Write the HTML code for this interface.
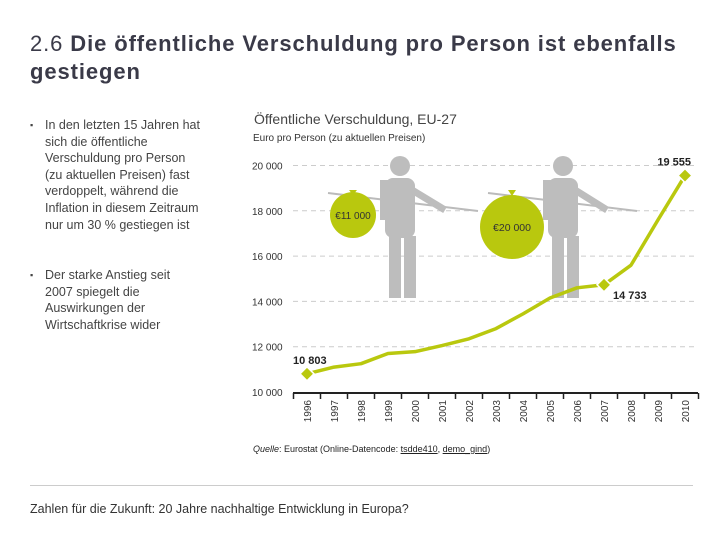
<!DOCTYPE html>
<html><head><meta charset="utf-8">
<style>
body{margin:0;width:720px;height:540px;background:#fff;font-family:"Liberation Sans",sans-serif;position:relative;overflow:hidden}
.t{position:absolute}
</style></head><body>
<div class="t" style="left:30px;top:30px;font-size:22px;letter-spacing:0.9px;color:#3a3a48;line-height:28px;width:690px">2.6 <b>Die öffentliche Verschuldung pro Person ist ebenfalls<br>gestiegen</b></div>
<div class="t" style="left:30px;top:117px;font-size:12.5px;color:#444;line-height:16.6px;width:170px"><span style="position:absolute;left:0;font-size:9px">▪</span><div style="margin-left:15px">In den letzten 15 Jahren hat sich die öffentliche Verschuldung pro Person (zu aktuellen Preisen) fast verdoppelt, während die Inflation in diesem Zeitraum nur um 30 % gestiegen ist</div></div>
<div class="t" style="left:30px;top:267px;font-size:12.5px;color:#444;line-height:16.6px;width:170px"><span style="position:absolute;left:0;font-size:9px">▪</span><div style="margin-left:15px">Der starke Anstieg seit 2007 spiegelt die Auswirkungen der Wirtschaftkrise wider</div></div>
<div class="t" style="left:254px;top:111px;font-size:14px;color:#444">Öffentliche Verschuldung, EU-27</div>
<div class="t" style="left:253px;top:133px;font-size:10px;color:#333">Euro pro Person (zu aktuellen Preisen)</div>
<svg class="t" style="left:0;top:0" width="720" height="540" id="chart">
<g id="grid"></g>
<g fill="#bdbdbd">
<line x1="328" y1="193" x2="478" y2="211" stroke="#bbb" stroke-width="2"/>
<circle cx="400" cy="166" r="10"/><rect x="385" y="178" width="30" height="60" rx="8"/><rect x="389" y="236" width="12" height="62"/><rect x="404" y="236" width="12" height="62"/>
<rect x="380" y="180" width="8" height="40"/><line x1="412" y1="190" x2="445" y2="210" stroke="#bdbdbd" stroke-width="7"/>
</g>
<g fill="#bdbdbd">
<line x1="488" y1="193" x2="637" y2="211" stroke="#bbb" stroke-width="2"/>
<circle cx="563" cy="166" r="10"/><rect x="548" y="178" width="30" height="60" rx="8"/><rect x="552" y="236" width="12" height="62"/><rect x="567" y="236" width="12" height="62"/>
<rect x="543" y="180" width="8" height="40"/><line x1="575" y1="190" x2="607" y2="210" stroke="#bdbdbd" stroke-width="7"/>
</g>
<circle cx="353" cy="215" r="23" fill="#b9c80e"/>
<path d="M349 190 L357 190 L353 195Z" fill="#b9c80e"/>
<text x="353" y="219" font-size="10" text-anchor="middle" fill="#333">€11 000</text>
<circle cx="512" cy="227" r="32" fill="#b9c80e"/>
<path d="M508 190 L516 190 L512 196Z" fill="#b9c80e"/>
<text x="512" y="231" font-size="10.5" text-anchor="middle" fill="#333">€20 000</text>
<g id="plot"></g>
</svg>
<div class="t" style="left:253px;top:444px;font-size:9px;color:#222"><i>Quelle</i>: Eurostat (Online-Datencode: <u>tsdde410</u>, <u>demo_gind</u>)</div>
<div class="t" style="left:30px;top:485px;width:663px;height:1px;background:#ccc"></div>
<div class="t" style="left:30px;top:502px;font-size:12.5px;color:#333">Zahlen für die Zukunft: 20 Jahre nachhaltige Entwicklung in Europa?</div>
<script>
const years=["1996","1997","1998","1999","2000","2001","2002","2003","2004","2005","2006","2007","2008","2009","2010"];
const values=[10803,11100,11250,11700,11780,12050,12350,12800,13450,14150,14600,14733,15600,17600,19555];
const yTicks=[10000,12000,14000,16000,18000,20000];
const yTickLabels=["10 000","12 000","14 000","16 000","18 000","20 000"];
const labelled=[0,11,14];
const labelText=["10 803","14 733","19 555"];
const NS="http://www.w3.org/2000/svg";
const x=i=>307+i*27;
const y=v=>392-(v-10000)*0.02265;
const grid=document.getElementById('grid'),plot=document.getElementById('plot');
function mk(tag,attrs,parent){const e=document.createElementNS(NS,tag);for(const k in attrs)e.setAttribute(k,attrs[k]);parent.appendChild(e);return e;}
yTicks.forEach((t,i)=>{
  if(i>0){const l=mk('line',{x1:293,x2:698,y1:y(t),y2:y(t),stroke:'#ccc','stroke-dasharray':'5,4'},grid);
  
  }
  const tx=mk('text',{x:252,y:y(t)+4,'font-size':10,fill:'#333'},grid);tx.textContent=yTickLabels[i];
  
  
});
const ax=mk('line',{x1:293,x2:698,y1:393,y2:393,stroke:'#222','stroke-width':2},grid);


for(let i=0;i<=years.length;i++){mk('line',{x1:293.5+i*27,x2:293.5+i*27,y1:393,y2:399,stroke:'#222','stroke-width':1.5},grid);}
years.forEach((yr,i)=>{const t=mk('text',{x:0,y:0,'font-size':10,fill:'#333','text-anchor':'end',transform:`translate(${x(i)+4},${400}) rotate(-90)`},grid);t.textContent=yr;
  
  });
let d='';values.forEach((v,i)=>{d+=(i?'L':'M')+x(i)+' '+y(v);});
const p=mk('path',{d:d,fill:'none',stroke:'#b9c80e','stroke-width':3.5,'stroke-linejoin':'round'},plot);


labelled.forEach((i,k)=>{
  const cx=x(i),cy=y(values[i]);
  const m=mk('path',{d:`M${cx} ${cy-7}L${cx+7} ${cy}L${cx} ${cy+7}L${cx-7} ${cy}Z`,fill:'#b9c80e',stroke:'#fff','stroke-width':1.5},plot);
  
  
  const pos=[[cx-14,cy-10,'start'],[cx+9,cy+14,'start'],[cx+6,cy-10,'end']][k];
  const t=mk('text',{x:pos[0],y:pos[1],'font-size':11,'font-weight':'bold',fill:'#222','text-anchor':pos[2]},plot);t.textContent=labelText[k];
  
  
});
</script>
</body></html>
